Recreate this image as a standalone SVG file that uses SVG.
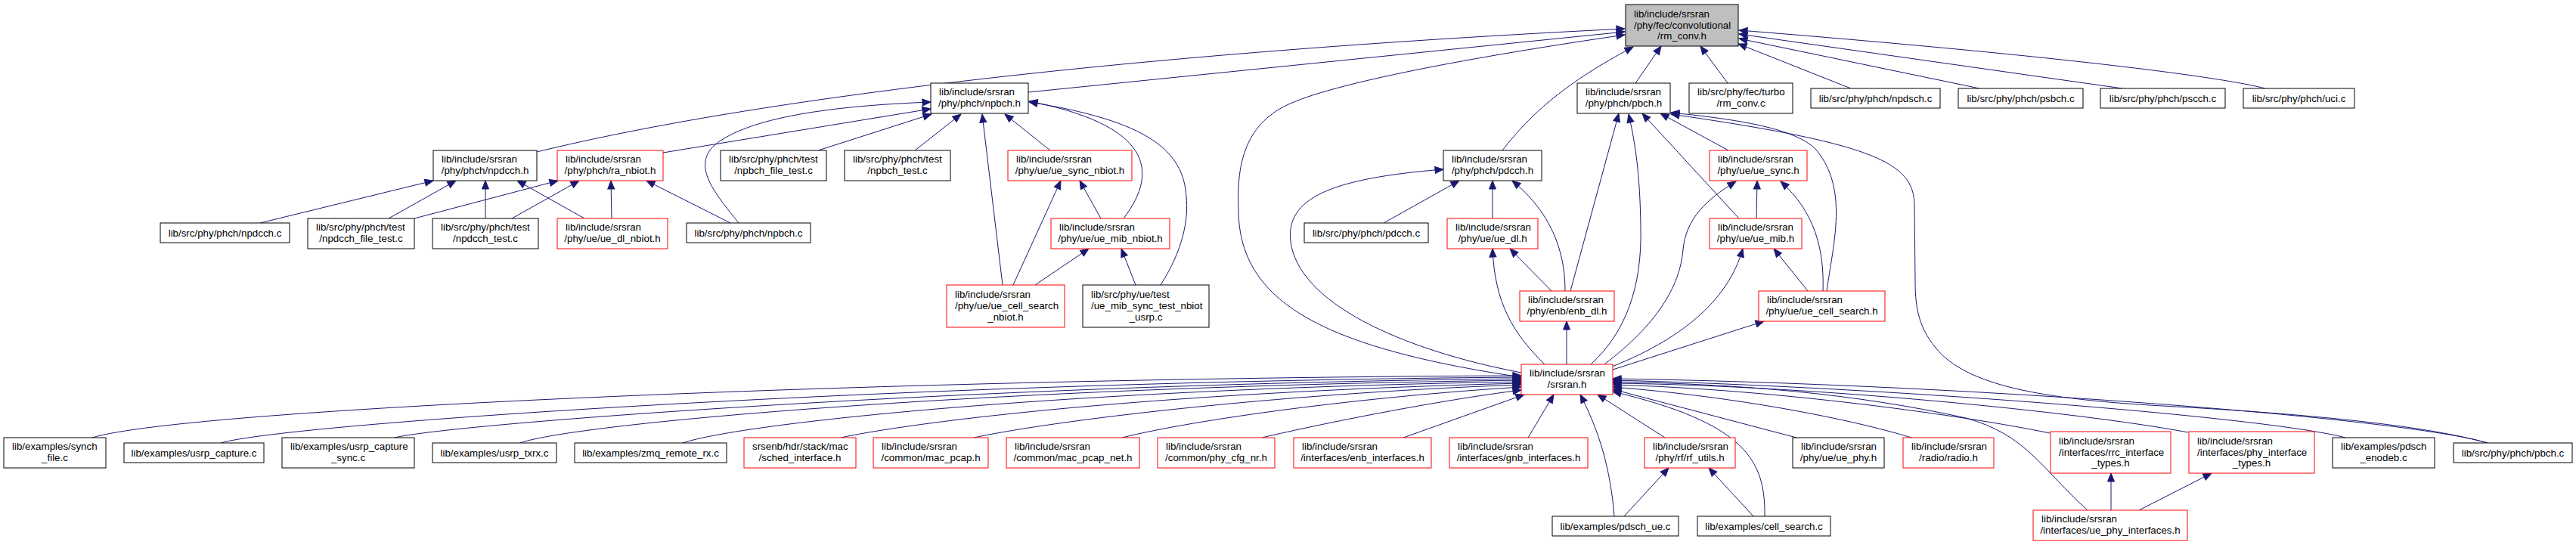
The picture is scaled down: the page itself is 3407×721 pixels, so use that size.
<svg xmlns="http://www.w3.org/2000/svg" width="3407" height="721" viewBox="0 0 3407 721">
<defs>
<style>
.n rect{fill:#fff;stroke:#000;stroke-width:1}
.r rect{stroke:#f00}
.n text{font-family:"Liberation Sans",Arial,Helvetica,sans-serif;font-size:13.33px;fill:#000}
.n text.c{text-anchor:middle}
#edges path{fill:none;stroke:#191970;stroke-width:1;marker-end:url(#ah)}
</style>
<marker id="ah" markerUnits="userSpaceOnUse" markerWidth="11" markerHeight="9" refX="11" refY="4.5" orient="auto" style="overflow:visible"><path d="M0,0 L11,4.5 L0,9 z" fill="#191970" stroke="#191970" stroke-width="1"/></marker>
</defs>
<rect x="0" y="0" width="3407" height="721" fill="#fff"/>
<g id="edges">
<path d="M710,201 C1000,130 1500,70 2149,38"/>
<path d="M1360,122 L2149,42"/>
<path d="M2012,499 C1750,460 1640,400 1638,280 C1636,230 1640,170 1700,140 C1760,110 1950,75 2149,46"/>
<path d="M1987,199 C2025,150 2070,110 2160,62"/>
<path d="M2163,110 L2197,61"/>
<path d="M2285,110 L2249,61"/>
<path d="M2448,117 L2299,58"/>
<path d="M2618,117 L2300,51"/>
<path d="M2807,117 L2300,45"/>
<path d="M2996,117 C2930,100 2700,72 2300,40"/>
<path d="M877,202 L1231,144"/>
<path d="M977,295 C945,255 915,220 945,192 C990,155 1100,140 1231,135"/>
<path d="M1082,199 L1232,151"/>
<path d="M1210,199 L1271,151"/>
<path d="M1326,377 L1299,151"/>
<path d="M1389,199 L1329,151"/>
<path d="M1486,289 C1535,225 1520,165 1361,134"/>
<path d="M1535,377 C1565,330 1572,290 1569,260 C1565,200 1520,160 1361,135"/>
<path d="M344,295 L573,239"/>
<path d="M514,289 L603,239"/>
<path d="M642,289 L642,239"/>
<path d="M773,289 L684,239"/>
<path d="M548,289 L738,239"/>
<path d="M677,289 L766,239"/>
<path d="M809,289 L808,239"/>
<path d="M966,295 L855,239"/>
<path d="M1340,377 L1403,239"/>
<path d="M1456,289 L1428,239"/>
<path d="M1369,377 L1440,329"/>
<path d="M1502,377 L1483,329"/>
<path d="M1830,295 L1930,239"/>
<path d="M1974,289 L1974,239"/>
<path d="M2070,385 C2070,330 2050,280 2000,239"/>
<path d="M2012,493 C1850,462 1718,400 1707,320 C1700,262 1760,236 1909,224"/>
<path d="M2043,482 C2000,440 1977,400 1974,329"/>
<path d="M2052,385 L1997,329"/>
<path d="M2072,482 L2072,425"/>
<path d="M2077,385 L2141,150"/>
<path d="M2104,482 C2150,440 2172,380 2170,300 C2169,230 2163,190 2154,151"/>
<path d="M2286,199 L2196,150"/>
<path d="M2300,289 L2172,150"/>
<path d="M2416,385 C2425,320 2445,250 2402,198 C2375,170 2300,158 2210,149"/>
<path d="M3290,586 C3180,555 2950,542 2860,537 C2700,528 2600,510 2560,460 C2535,430 2533,400 2533,370 L2532,270 C2530,215 2480,190 2210,151"/>
<path d="M2122,482 C2190,430 2222,380 2226,330 C2230,290 2255,265 2296,240"/>
<path d="M2323,289 L2324,239"/>
<path d="M2411,385 C2413,330 2400,280 2355,240"/>
<path d="M2132,485 C2220,450 2285,400 2305,329"/>
<path d="M2391,385 L2346,329"/>
<path d="M2133,489 L2333,425"/>
<path d="M122,579 C250,540 1200,500 2012,497"/>
<path d="M292,586 C380,560 1200,505 2012,499"/>
<path d="M522,579 C600,560 1300,508 2012,501"/>
<path d="M688,586 C760,560 1300,512 2012,503"/>
<path d="M903,586 C980,560 1400,515 2012,505"/>
<path d="M1112,579 C1200,560 1500,520 2012,507"/>
<path d="M1288,579 C1400,555 1700,520 2012,509"/>
<path d="M1484,579 C1580,555 1800,525 2012,512"/>
<path d="M1669,579 C1750,560 1900,530 2012,516"/>
<path d="M1856,579 L2016,522"/>
<path d="M2021,579 L2055,522"/>
<path d="M2135,683 C2130,620 2115,570 2090,522"/>
<path d="M2202,579 L2113,522"/>
<path d="M2148,683 L2207,619"/>
<path d="M2319,683 L2260,619"/>
<path d="M2334,683 C2335,610 2310,560 2133,518"/>
<path d="M2376,579 L2133,515"/>
<path d="M2528,579 C2450,555 2300,525 2133,512"/>
<path d="M2711,573 C2600,550 2350,515 2133,509"/>
<path d="M2894,572 C2750,545 2400,510 2133,507"/>
<path d="M3102,579 C3000,552 2500,512 2133,503"/>
<path d="M3290,586 C3180,553 2600,508 2133,501"/>
<path d="M2761,675 C2700,620 2680,575 2600,553 C2450,520 2300,508 2133,505"/>
<path d="M2792,675 L2792,626"/>
<path d="M2829,675 L2925,626"/>
</g>
<g id="n_rmconv" class="n"><rect x="2150" y="6" width="149" height="55" style="fill:#bfbfbf"/><text x="2161" y="22.5">lib/include/srsran</text><text x="2161" y="37.5">/phy/fec/convolutional</text><text class="c" x="2224.5" y="52">/rm_conv.h</text></g>
<g id="n_npdcch_h" class="n"><rect x="573" y="199" width="137" height="40"/><text x="584" y="215">lib/include/srsran</text><text class="c" x="641.5" y="230">/phy/phch/npdcch.h</text></g>
<g id="n_ra_nbiot_h" class="n r"><rect x="737" y="199" width="140" height="40"/><text x="748" y="215">lib/include/srsran</text><text class="c" x="807" y="230">/phy/phch/ra_nbiot.h</text></g>
<g id="n_npbch_file_test_c" class="n"><rect x="953" y="199" width="140" height="40"/><text x="964" y="215">lib/src/phy/phch/test</text><text class="c" x="1023" y="230">/npbch_file_test.c</text></g>
<g id="n_npbch_test_c" class="n"><rect x="1117" y="199" width="140" height="40"/><text x="1128" y="215">lib/src/phy/phch/test</text><text class="c" x="1187" y="230">/npbch_test.c</text></g>
<g id="n_npbch_h" class="n"><rect x="1231" y="110" width="129" height="40"/><text x="1242" y="126">lib/include/srsran</text><text class="c" x="1295.5" y="141">/phy/phch/npbch.h</text></g>
<g id="n_ue_sync_nbiot_h" class="n r"><rect x="1333" y="199" width="164" height="40"/><text x="1344" y="215">lib/include/srsran</text><text class="c" x="1415" y="230">/phy/ue/ue_sync_nbiot.h</text></g>
<g id="n_ue_mib_nbiot_h" class="n r"><rect x="1390" y="289" width="157" height="40"/><text x="1401" y="305">lib/include/srsran</text><text class="c" x="1468.5" y="320">/phy/ue/ue_mib_nbiot.h</text></g>
<g id="n_npdcch_c" class="n"><rect x="212" y="295" width="171" height="26"/><text class="c" x="297.5" y="312.5">lib/src/phy/phch/npdcch.c</text></g>
<g id="n_npdcch_file_test_c" class="n"><rect x="407" y="289" width="141" height="40"/><text x="418" y="305">lib/src/phy/phch/test</text><text class="c" x="477.5" y="320">/npdcch_file_test.c</text></g>
<g id="n_npdcch_test_c" class="n"><rect x="572" y="289" width="140" height="40"/><text x="583" y="305">lib/src/phy/phch/test</text><text class="c" x="642" y="320">/npdcch_test.c</text></g>
<g id="n_ue_dl_nbiot_h" class="n r"><rect x="737" y="289" width="146" height="40"/><text x="748" y="305">lib/include/srsran</text><text class="c" x="810" y="320">/phy/ue/ue_dl_nbiot.h</text></g>
<g id="n_npbch_c" class="n"><rect x="908" y="295" width="164" height="26"/><text class="c" x="990" y="312.5">lib/src/phy/phch/npbch.c</text></g>
<g id="n_pbch_h" class="n"><rect x="2086" y="110" width="123" height="40"/><text x="2097" y="126">lib/include/srsran</text><text class="c" x="2147.5" y="141">/phy/phch/pbch.h</text></g>
<g id="n_turbo_rm_conv_c" class="n"><rect x="2234" y="110" width="137" height="40"/><text x="2245" y="126">lib/src/phy/fec/turbo</text><text class="c" x="2302.5" y="141">/rm_conv.c</text></g>
<g id="n_npdsch_c" class="n"><rect x="2395" y="117" width="171" height="26"/><text class="c" x="2480.5" y="134.5">lib/src/phy/phch/npdsch.c</text></g>
<g id="n_psbch_c" class="n"><rect x="2590" y="117" width="165" height="26"/><text class="c" x="2672.5" y="134.5">lib/src/phy/phch/psbch.c</text></g>
<g id="n_pscch_c" class="n"><rect x="2778" y="117" width="165" height="26"/><text class="c" x="2860.5" y="134.5">lib/src/phy/phch/pscch.c</text></g>
<g id="n_uci_c" class="n"><rect x="2967" y="117" width="147" height="26"/><text class="c" x="3040.5" y="134.5">lib/src/phy/phch/uci.c</text></g>
<g id="n_pdcch_h" class="n"><rect x="1909" y="199" width="130" height="40"/><text x="1920" y="215">lib/include/srsran</text><text class="c" x="1974" y="230">/phy/phch/pdcch.h</text></g>
<g id="n_ue_sync_h" class="n r"><rect x="2261" y="199" width="129" height="40"/><text x="2272" y="215">lib/include/srsran</text><text class="c" x="2325.5" y="230">/phy/ue/ue_sync.h</text></g>
<g id="n_pdcch_c" class="n"><rect x="1725" y="295" width="164" height="26"/><text class="c" x="1807" y="312.5">lib/src/phy/phch/pdcch.c</text></g>
<g id="n_ue_dl_h" class="n r"><rect x="1914" y="289" width="120" height="40"/><text x="1925" y="305">lib/include/srsran</text><text class="c" x="1974" y="320">/phy/ue/ue_dl.h</text></g>
<g id="n_ue_mib_h" class="n r"><rect x="2261" y="289" width="122" height="40"/><text x="2272" y="305">lib/include/srsran</text><text class="c" x="2322" y="320">/phy/ue/ue_mib.h</text></g>
<g id="n_ue_cell_search_nbiot_h" class="n r"><rect x="1252" y="377" width="156" height="56"/><text x="1263" y="394">lib/include/srsran</text><text x="1263" y="409">/phy/ue/ue_cell_search</text><text class="c" x="1330" y="423.5">_nbiot.h</text></g>
<g id="n_ue_mib_sync_test_nbiot_usrp_c" class="n"><rect x="1432" y="377" width="167" height="56"/><text x="1443" y="394">lib/src/phy/ue/test</text><text x="1443" y="409">/ue_mib_sync_test_nbiot</text><text class="c" x="1515.5" y="423.5">_usrp.c</text></g>
<g id="n_enb_dl_h" class="n r"><rect x="2010" y="385" width="125" height="40"/><text x="2021" y="401">lib/include/srsran</text><text class="c" x="2072.5" y="416">/phy/enb/enb_dl.h</text></g>
<g id="n_ue_cell_search_h" class="n r"><rect x="2326" y="385" width="167" height="40"/><text x="2337" y="401">lib/include/srsran</text><text class="c" x="2409.5" y="416">/phy/ue/ue_cell_search.h</text></g>
<g id="n_srsran_h" class="n r"><rect x="2012" y="482" width="121" height="40"/><text x="2023" y="498">lib/include/srsran</text><text class="c" x="2072.5" y="513">/srsran.h</text></g>
<g id="n_synch_file_c" class="n"><rect x="5" y="579" width="135" height="40"/><text x="16" y="595">lib/examples/synch</text><text class="c" x="72.5" y="610">_file.c</text></g>
<g id="n_usrp_capture_c" class="n"><rect x="164" y="586" width="185" height="26"/><text class="c" x="256.5" y="603.5">lib/examples/usrp_capture.c</text></g>
<g id="n_usrp_capture_sync_c" class="n"><rect x="373" y="579" width="175" height="40"/><text x="384" y="595">lib/examples/usrp_capture</text><text class="c" x="460.5" y="610">_sync.c</text></g>
<g id="n_usrp_txrx_c" class="n"><rect x="572" y="586" width="164" height="26"/><text class="c" x="654" y="603.5">lib/examples/usrp_txrx.c</text></g>
<g id="n_zmq_remote_rx_c" class="n"><rect x="760" y="586" width="201" height="26"/><text class="c" x="860.5" y="603.5">lib/examples/zmq_remote_rx.c</text></g>
<g id="n_sched_interface_h" class="n r"><rect x="984" y="579" width="148" height="40"/><text x="995" y="595">srsenb/hdr/stack/mac</text><text class="c" x="1058" y="610">/sched_interface.h</text></g>
<g id="n_mac_pcap_h" class="n r"><rect x="1155" y="579" width="152" height="40"/><text x="1166" y="595">lib/include/srsran</text><text class="c" x="1231" y="610">/common/mac_pcap.h</text></g>
<g id="n_mac_pcap_net_h" class="n r"><rect x="1331" y="579" width="176" height="40"/><text x="1342" y="595">lib/include/srsran</text><text class="c" x="1419" y="610">/common/mac_pcap_net.h</text></g>
<g id="n_phy_cfg_nr_h" class="n r"><rect x="1531" y="579" width="155" height="40"/><text x="1542" y="595">lib/include/srsran</text><text class="c" x="1608.5" y="610">/common/phy_cfg_nr.h</text></g>
<g id="n_enb_interfaces_h" class="n r"><rect x="1711" y="579" width="182" height="40"/><text x="1722" y="595">lib/include/srsran</text><text class="c" x="1802" y="610">/interfaces/enb_interfaces.h</text></g>
<g id="n_gnb_interfaces_h" class="n r"><rect x="1917" y="579" width="183" height="40"/><text x="1928" y="595">lib/include/srsran</text><text class="c" x="2008.5" y="610">/interfaces/gnb_interfaces.h</text></g>
<g id="n_rf_utils_h" class="n r"><rect x="2175" y="579" width="120" height="40"/><text x="2186" y="595">lib/include/srsran</text><text class="c" x="2235" y="610">/phy/rf/rf_utils.h</text></g>
<g id="n_ue_phy_h" class="n"><rect x="2371" y="579" width="121" height="40"/><text x="2382" y="595">lib/include/srsran</text><text class="c" x="2431.5" y="610">/phy/ue/ue_phy.h</text></g>
<g id="n_radio_h" class="n r"><rect x="2517" y="579" width="120" height="40"/><text x="2528" y="595">lib/include/srsran</text><text class="c" x="2577" y="610">/radio/radio.h</text></g>
<g id="n_rrc_interface_types_h" class="n r"><rect x="2712" y="571" width="159" height="55"/><text x="2723" y="587.5">lib/include/srsran</text><text x="2723" y="602.5">/interfaces/rrc_interface</text><text class="c" x="2791.5" y="617">_types.h</text></g>
<g id="n_phy_interface_types_h" class="n r"><rect x="2895" y="571" width="166" height="55"/><text x="2906" y="587.5">lib/include/srsran</text><text x="2906" y="602.5">/interfaces/phy_interface</text><text class="c" x="2978" y="617">_types.h</text></g>
<g id="n_pdsch_enodeb_c" class="n"><rect x="3085" y="579" width="135" height="40"/><text x="3096" y="595">lib/examples/pdsch</text><text class="c" x="3152.5" y="610">_enodeb.c</text></g>
<g id="n_pbch_c" class="n"><rect x="3245" y="586" width="157" height="26"/><text class="c" x="3323.5" y="603.5">lib/src/phy/phch/pbch.c</text></g>
<g id="n_pdsch_ue_c" class="n"><rect x="2053" y="683" width="167" height="26"/><text class="c" x="2136.5" y="700.5">lib/examples/pdsch_ue.c</text></g>
<g id="n_cell_search_c" class="n"><rect x="2245" y="683" width="176" height="26"/><text class="c" x="2333" y="700.5">lib/examples/cell_search.c</text></g>
<g id="n_ue_phy_interfaces_h" class="n r"><rect x="2689" y="675" width="204" height="40"/><text x="2700" y="691">lib/include/srsran</text><text class="c" x="2791" y="706">/interfaces/ue_phy_interfaces.h</text></g>
</svg>
